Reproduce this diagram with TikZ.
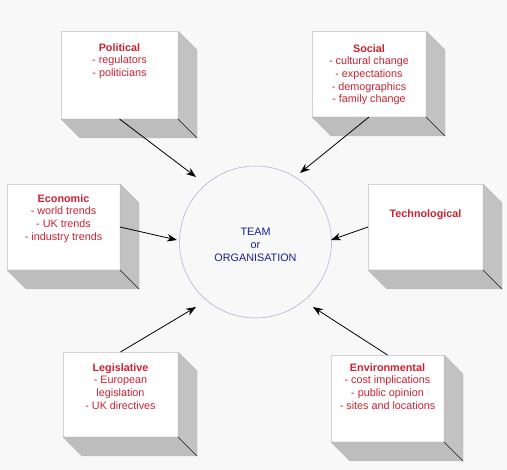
\documentclass[tikz,border=0pt]{standalone}
\usepackage{fontspec}
\setmainfont{Liberation Sans}
\usetikzlibrary{arrows.meta}
\definecolor{pestred}{HTML}{CC2233}
\definecolor{teamblue}{HTML}{1C1CA0}
\definecolor{ringcol}{HTML}{A8A8D4}
\definecolor{bgcol}{HTML}{F8F8F8}
\begin{document}
\begin{tikzpicture}[x=1pt,y=-1pt,>={Stealth[length=10pt,width=7.5pt]},line join=round,
	font=\fontsize{10.8}{12.7}\selectfont,
	front/.style={draw=gray!35,fill=white,inner sep=0pt,outer sep=0pt,minimum width=115pt,minimum height=86pt},
	sideface/.style={fill=gray!48,draw=gray!55},
	txt/.style={anchor=north,inner sep=0pt,align=center,text=pestred},
	arr/.style={->,line width=.8pt}]
	\fill[bgcol] (0,0) rectangle (507,470);
	\useasboundingbox (0,0) rectangle (507,470);
	% front faces
	\node[front,minimum width=117pt,minimum height=88pt] (pol) at (119.5,75) {};
	\node[front,minimum width=114pt] (soc) at (369,74) {};
	\node[front,minimum width=113pt] (eco) at (63.5,227) {};
	\node[front] (tec) at (425.5,227) {};
	\node[front,minimum height=85pt] (leg) at (120.5,394.5) {};
	\node[front,minimum width=113pt,minimum height=87pt] (env) at (387.5,398.5) {};
	% depth of the boxes
	\foreach \n in {pol,soc,eco,tec,leg,env}{
		\filldraw[sideface] (\n.north east) -- ++(19,19) -- ([shift={(19,19)}]\n.south east) -- (\n.south east) -- cycle;
		\filldraw[sideface,fill=gray!52] (\n.south west) -- ++(19,19) -- ([shift={(19,19)}]\n.south east) -- (\n.south east) -- cycle;
		\draw[gray!20!black] (\n.south east) -- ++(19,19);
	}
	% texts
	\node[txt] (polT) at ([yshift=-12pt]pol.north) {\textbf{Political}\\- regulators\\- politicians};
	\node[txt] (socT) at ([yshift=-13pt]soc.north) {\textbf{Social}\\- cultural change\\- expectations\\- demographics\\- family change};
	\node[txt] (ecoT) at ([yshift=-10pt]eco.north) {\textbf{Economic}\\- world trends\\- UK trends\\- industry trends};
	\node[txt] (tecT) at ([yshift=-25pt]tec.north) {\textbf{Technological}};
	\node[txt] (legT) at ([yshift=-11pt]leg.north) {\textbf{Legislative}\\- European\\legislation\\- UK directives};
	\node[txt] (envT) at ([yshift=-8pt]env.north) {\textbf{Environmental}\\- cost implications\\- public opinion\\- sites and locations};
	% centre
	\node[circle,draw=ringcol,line width=.5pt,minimum size=152pt,inner sep=0pt] (team) at (255.5,242) {};
	\node[align=center,text=teamblue,inner sep=0pt,font=\fontsize{10.8}{13}\selectfont] (teamT) at ([yshift=-3pt]team.center) {TEAM\\or\\ORGANISATION};
	\path
	(196,177) coordinate (polTip)
	(300,173) coordinate (socTip)
	(177,240) coordinate (ecoTip)
	(331,240) coordinate (tecTip)
	(196,307) coordinate (legTip)
	(313,307) coordinate (envTip);
	\draw[arr] (pol.south) -- (polTip);
	\draw[arr] (soc.south) -- (socTip);
	\draw[arr] (eco.east) -- (ecoTip);
	\draw[arr] (tec.west) -- (tecTip);
	\draw[arr] (leg.north) -- (legTip);
	\draw[arr] (env.north) -- (envTip);
\end{tikzpicture}
\end{document}
